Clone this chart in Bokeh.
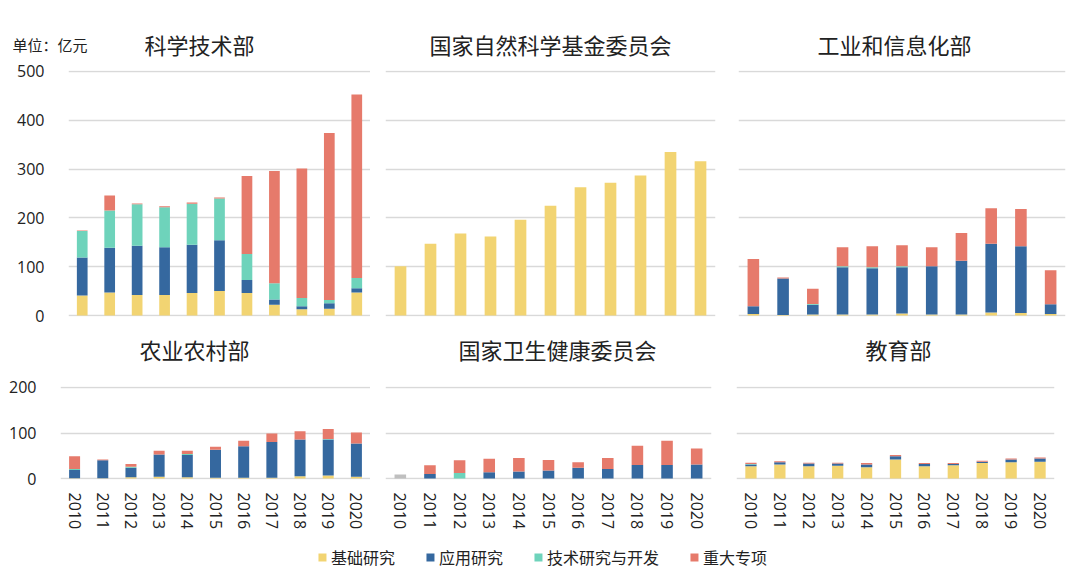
from bokeh.plotting import figure
from bokeh.models import FactorRange, Range1d, FixedTicker, Legend, LegendItem
from bokeh.core.properties import value
from bokeh.layouts import column, row
from bokeh.embed import file_html
from bokeh.resources import INLINE

years = [str(y) for y in range(2010, 2021)]
series = ["基础研究", "应用研究", "技术研究与开发", "重大专项", "其他"]
colors = ["#F2D472", "#35689F", "#6ED3BB", "#E67A6B", "#BFBFBF"]
unit_text = "单位：亿元"
top_titles = ["科学技术部", "国家自然科学基金委员会", "工业和信息化部"]
bottom_titles = ["农业农村部", "国家卫生健康委员会", "教育部"]

top_ticks = [0, 100, 200, 300, 400, 500]
bottom_ticks = [0, 100, 200]

# 科学技术部
most_basic = [41, 47, 42, 42, 46, 50, 46, 22, 13, 14, 47]
most_applied = [78, 92, 101, 98, 99, 104, 27, 11, 6, 11, 9]
most_tech = [54, 76, 85, 82, 84, 86, 53, 33, 17, 7, 21]
most_major = [1, 31, 1.5, 2, 2.5, 2, 160, 230, 265, 342, 376]

# 国家自然科学基金委员会
nsfc_basic = [101, 147, 168, 162, 196, 225, 263, 272, 287, 335, 316]

# 工业和信息化部
miit_basic = [3, 1, 2, 2, 2, 4, 2, 2, 6, 5, 3]
miit_applied = [16, 75, 20, 97, 95, 95, 99, 110, 141, 137, 20]
miit_tech = [0, 0, 1.5, 2, 2, 2, 0, 0, 0, 0, 0]
miit_major = [97, 2, 31.5, 39, 43, 43, 39, 57, 73, 76, 70]

# 农业农村部
moa_basic = [1, 1, 3, 4, 3, 2, 2, 2, 5, 7, 4]
moa_applied = [18, 39, 21, 49, 49, 61, 69, 78, 81, 79, 73]
moa_tech = [2, 0, 2, 0, 2, 0, 0, 0, 0, 1, 0]
moa_major = [28, 2, 6, 8, 7, 7, 12, 19, 18, 22, 24]

# 国家卫生健康委员会
nhc_basic = [0, 0, 0, 0, 0, 0, 0, 0, 0, 0, 0]
nhc_applied = [0, 10, 0, 14, 15.5, 18, 24, 21, 30, 30, 31]
nhc_tech = [0, 0, 12.5, 0, 0, 0, 0, 0, 0, 0, 0]
nhc_major = [0, 19, 27.5, 29.5, 29.5, 23, 12, 24, 42, 53, 35]
nhc_other = [9, 0, 0, 0, 0, 0, 0, 0, 0, 0, 0]

# 教育部
moe_basic = [27, 31, 27, 28, 25, 42, 27, 29, 34, 36, 37]
moe_applied = [4, 5, 6, 5, 6, 7, 5, 3, 3, 6, 7]
moe_tech = [1, 0, 0, 0, 0, 0, 0, 0, 0, 0, 0]
moe_major = [3, 2, 1.5, 2, 3, 3, 2, 2, 2, 2, 2]

panel_data = [
    [most_basic, most_applied, most_tech, most_major],
    [nsfc_basic],
    [miit_basic, miit_applied, miit_tech, miit_major],
    [moa_basic, moa_applied, moa_tech, moa_major],
    [nhc_basic, nhc_applied, nhc_tech, nhc_major, nhc_other],
    [moe_basic, moe_applied, moe_tech, moe_major],
]

# layout: width, min_border_left, min_border_right
top_cfg = [(370, 68, 0), (350, 15, 5), (352, 18, 7)]
bot_cfg = [(370, 60, 0), (350, 15, 9), (352, 16, 18)]
TOTAL_W = 1072
PAD_L = 12  # common left border of header / legend strips (column aligns frames)
top_title_x = [199, 550, 894]
bottom_title_x = [194, 557, 898]
unit_x = 12

CJK = "Noto Sans CJK SC"
NUM = "Open Sans"
GRID = "#D9D9D9"
INK = "#222222"


def strip(h):
    p = figure(width=TOTAL_W, height=h, output_backend="svg", toolbar_location=None,
               x_range=Range1d(PAD_L, TOTAL_W), y_range=Range1d(h, 0),
               x_axis_location=None, y_axis_location=None,
               min_border=0, min_border_left=PAD_L, min_border_right=0,
               min_border_top=0, min_border_bottom=0)
    p.outline_line_color = None
    p.grid.visible = False
    return p


def make_panel(idx, data, cfg, top):
    w, bl, br = cfg
    if top:
        h, bt, bb = 270, 10, 14
        yr = Range1d(-2, 502)
        ticks = top_ticks
    else:
        h, bt, bb = 170, 16, 61
        yr = Range1d(-2, 202)
        ticks = bottom_ticks
    p = figure(width=w, height=h, x_range=FactorRange(*years), y_range=yr,
               output_backend="svg", toolbar_location=None,
               min_border_left=bl, min_border_right=br,
               min_border_top=bt, min_border_bottom=bb)
    p.outline_line_color = None
    src = {"year": years}
    keys = []
    cols = []
    for i, arr in enumerate(data):
        k = "s%d" % i
        src[k] = arr
        keys.append(k)
        cols.append(colors[i])
    p.vbar_stack(keys, x="year", width=0.39, color=cols, line_color=None, source=src)

    p.ygrid.ticker = FixedTicker(ticks=ticks)
    p.ygrid.grid_line_color = GRID
    p.ygrid.grid_line_width = 1.6
    p.xgrid.grid_line_color = None
    p.yaxis.ticker = FixedTicker(ticks=ticks)
    p.yaxis.axis_line_color = None
    p.yaxis.major_tick_line_color = None
    p.yaxis.minor_tick_line_color = None
    p.yaxis.major_label_text_font = NUM
    p.yaxis.major_label_text_font_size = "16px"
    p.yaxis.major_label_text_color = INK
    p.yaxis.major_label_standoff = 18
    if idx % 3 != 0:
        p.yaxis.visible = False

    if top:
        p.xaxis.visible = False
    else:
        p.xaxis.axis_line_color = None
        p.xaxis.major_tick_line_color = None
        p.xaxis.minor_tick_line_color = None
        p.xaxis.major_label_orientation = "vertical"
        p.xaxis.major_label_text_font = NUM
        p.xaxis.major_label_text_font_size = "16px"
        p.xaxis.major_label_text_color = INK
        p.xaxis.major_label_standoff = 7
    return p


figs = []
for i, data in enumerate(panel_data):
    top = i < 3
    cfg = top_cfg[i] if top else bot_cfg[i - 3]
    figs.append(make_panel(i, data, cfg, top))

# header strips holding the panel titles and the unit note
head_top = strip(60)
head_top.text(x=top_title_x, y=[43.5] * 3, text=top_titles,
              text_align="center", text_baseline="middle",
              text_font=value(CJK), text_font_size="22px", text_color=INK)
head_top.text(x=[unit_x], y=[44], text=[unit_text],
              text_align="left", text_baseline="middle",
              text_font=value(CJK), text_font_size="15px", text_color=INK)

head_bot = strip(40)
head_bot.text(x=bottom_title_x, y=[18] * 3, text=bottom_titles,
              text_align="center", text_baseline="middle",
              text_font=value(CJK), text_font_size="22px", text_color=INK)

lg = strip(33)
items = []
for i in range(4):
    r = lg.vbar(x=[500], top=[0], bottom=[0], width=0, color=colors[i], line_color=None)
    items.append(LegendItem(label=series[i], renderers=[r]))
legend = Legend(items=items, orientation="horizontal", location="center",
                border_line_color=None, background_fill_alpha=0,
                spacing=30, label_standoff=4, glyph_width=10, glyph_height=10,
                label_text_font=CJK, label_text_font_size="16px",
                label_text_color=INK, padding=0, margin=0)
lg.add_layout(legend, "center")

layout = column(head_top,
                row(figs[0], figs[1], figs[2], spacing=0),
                head_bot,
                row(figs[3], figs[4], figs[5], spacing=0),
                lg, spacing=0)

open("out.html", "w").write(file_html(layout, INLINE))
